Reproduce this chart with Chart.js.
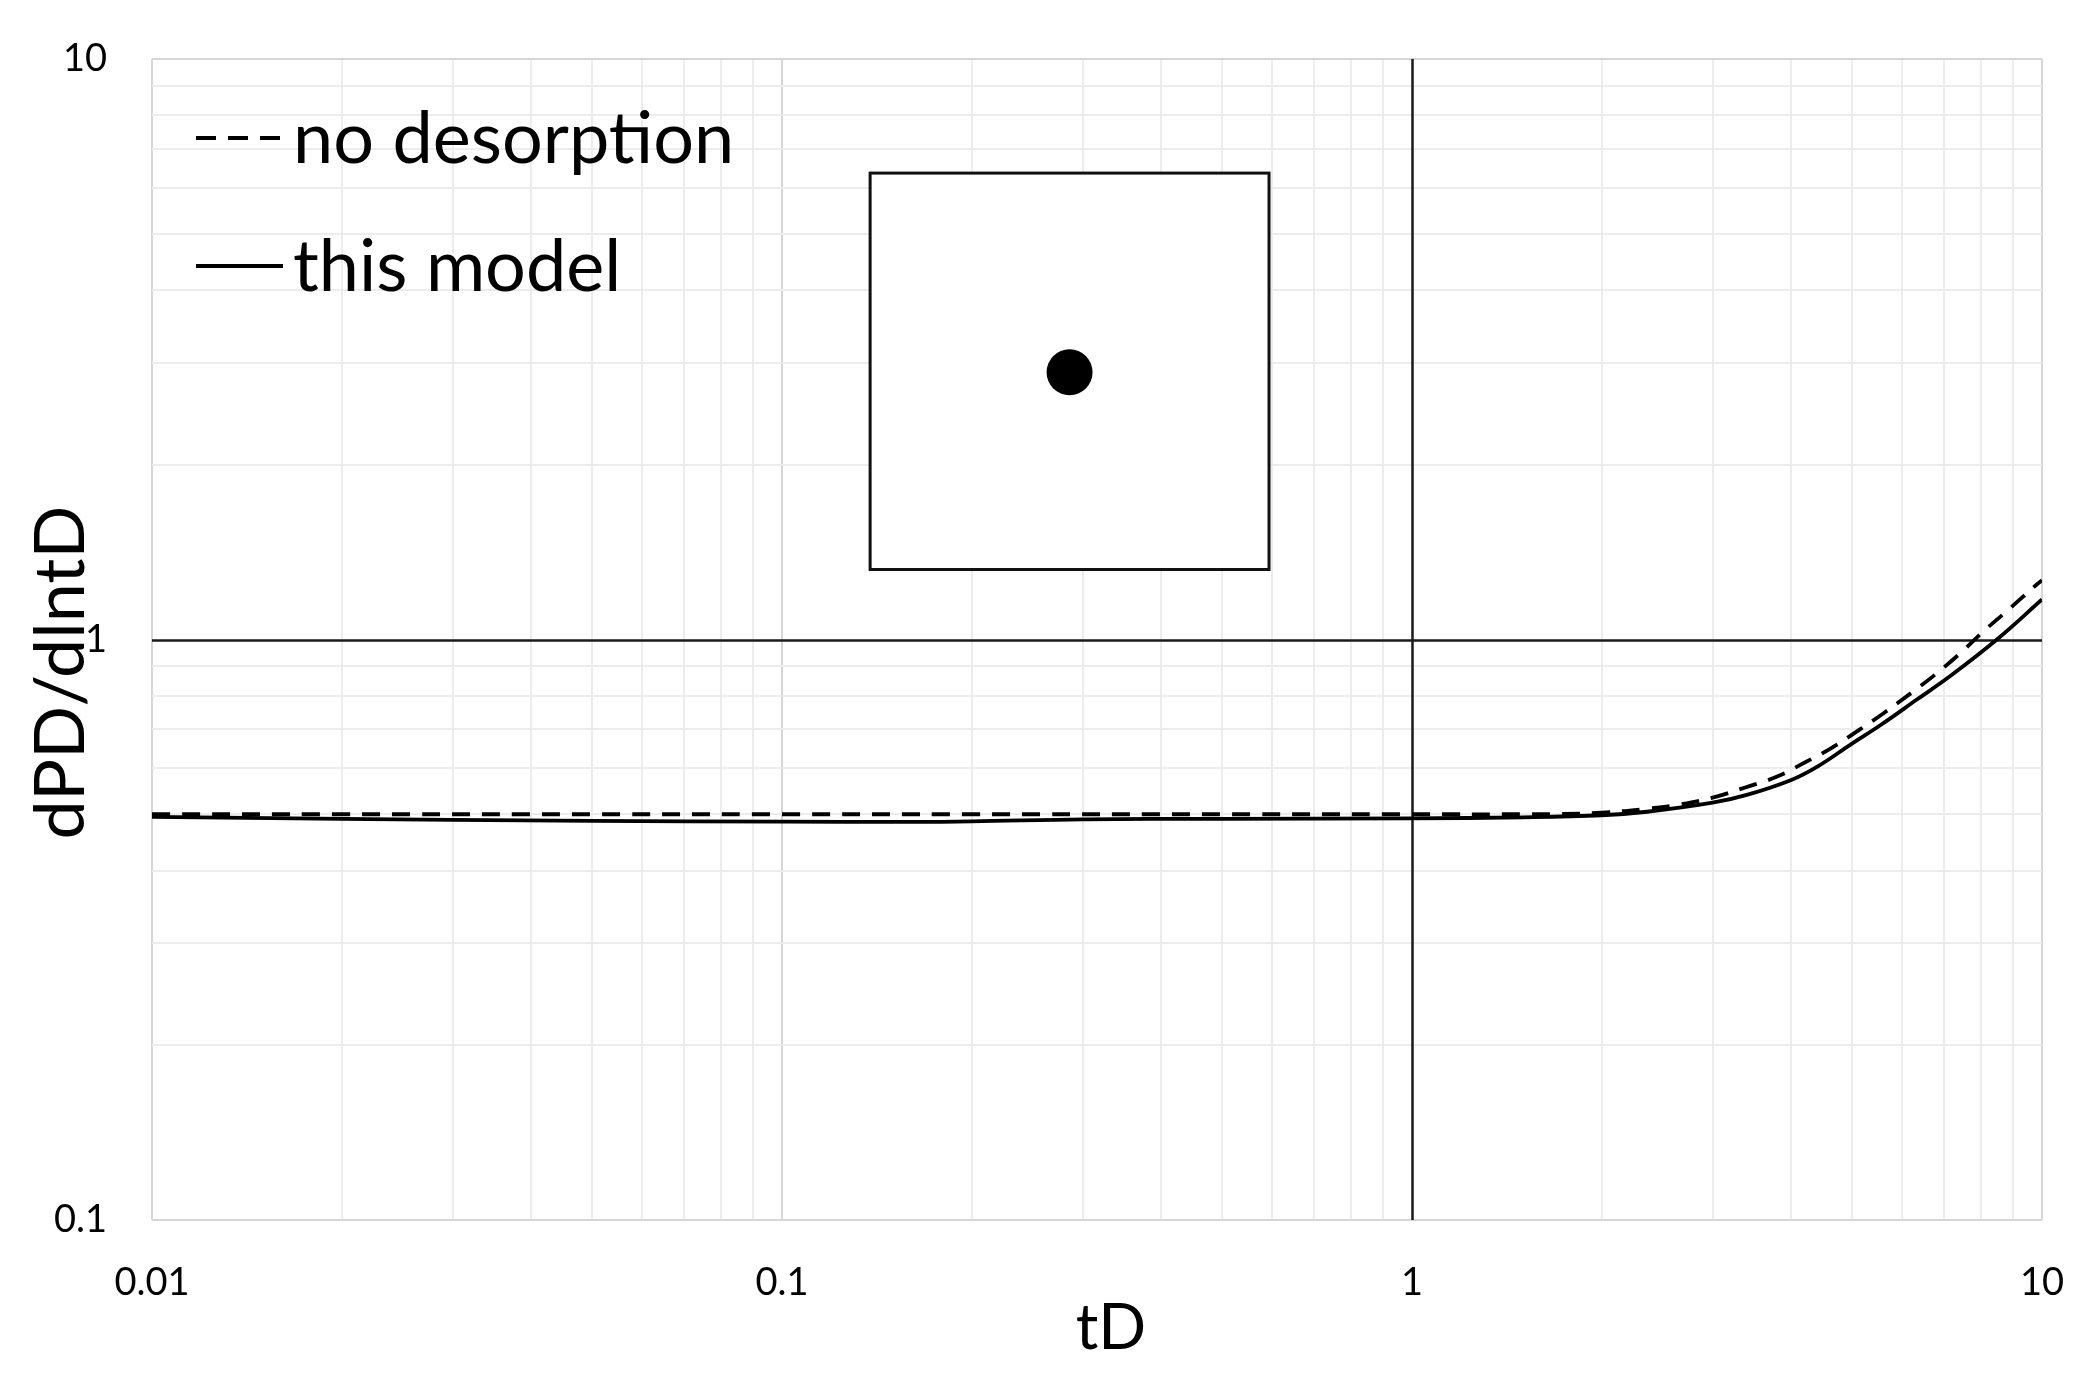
<!DOCTYPE html>
<html>
<head>
<meta charset="utf-8">
<script src="https://cdn.jsdelivr.net/npm/chart.js@4"></script>
<style>
  html, body { margin: 0; padding: 0; background: #ffffff; }
  canvas { display: block; }
</style>
</head>
<body>
<canvas id="c" width="2091" height="1397"></canvas>
<script>
// ---------- data ----------
const tD_noDesorption  = [0.01, 0.02, 0.05, 0.1, 0.2, 0.5, 1, 1.5, 1.72, 2.0, 2.36, 2.66, 3.0, 3.38, 3.79, 4.18, 4.63, 5.14, 5.59, 6.24, 6.81, 7.49, 8.06, 8.9, 9.82, 10];
const dPD_noDesorption = [0.5, 0.5, 0.5, 0.5, 0.5, 0.5, 0.5, 0.5, 0.5005, 0.503, 0.511, 0.5196, 0.534, 0.556, 0.580, 0.612, 0.650, 0.700, 0.745, 0.813, 0.875, 0.956, 1.031, 1.132, 1.245, 1.265];

const tD_thisModel  = [0.01, 0.02, 0.03, 0.05, 0.1, 0.16, 0.2, 0.3, 0.5, 1, 1.5, 2.0, 2.36, 3.0, 3.4, 4.0, 4.4, 5.0, 5.53, 6.33, 7.15, 8.48, 10];
const dPD_thisModel = [0.495, 0.491, 0.489, 0.487, 0.4855, 0.485, 0.486, 0.490, 0.491, 0.492, 0.494, 0.498, 0.505, 0.5235, 0.540, 0.573, 0.604, 0.6625, 0.711, 0.788, 0.865, 1.0, 1.172];

const seriesLabels = ['no desorption', 'this model'];
const xTickLabels = ['0.01', '0.1', '1', '10'];
const yTickLabels = ['0.1', '1', '10'];
const xTitle = 'tD';
const yTitle = 'dPD/dlntD';

// ---------- helpers ----------
const FONT = 'Lato, "Open Sans", "Noto Sans", sans-serif';
function toXY(xs, ys) { return xs.map((x, i) => ({ x: x, y: ys[i] })); }
function logTicks(min, max) {
  const t = [];
  for (let d = min; d <= max * 1.0001; d *= 10) {
    for (let m = 1; m < 10; m++) {
      const v = +(m * d).toPrecision(3);
      if (v > max * 1.0001) break;
      t.push({ value: v });
    }
  }
  return t;
}
function labelFor(list) {
  return function (value) {
    const hit = list.find(l => Math.abs(parseFloat(l) - value) < 1e-9 * Math.max(1, value));
    return hit === undefined ? '' : hit;
  };
}
function isDecade(v) { const l = Math.log10(v); return Math.abs(l - Math.round(l)) < 1e-9; }
function gridColor(ctx) {
  const v = ctx.tick.value;
  if (Math.abs(v - 1) < 1e-9) return 'rgba(0,0,0,0)'; // drawn as black crossing axis below
  return isDecade(v) ? '#d6d6d6' : '#ececec';
}

// ---------- overlay: crossing axes, inset sketch, legend, titles ----------
const overlay = {
  id: 'overlay',
  beforeDatasetsDraw(chart) {
    const { ctx, chartArea: a, scales: { x, y } } = chart;
    ctx.save();
    // crossing axes at 1
    ctx.strokeStyle = '#1a1a1a';
    ctx.lineWidth = 2.5;
    const px = Math.round(x.getPixelForValue(1)) + 0.5;
    const py = Math.round(y.getPixelForValue(1)) + 0.5;
    ctx.beginPath();
    ctx.moveTo(px, a.top); ctx.lineTo(px, a.bottom);
    ctx.moveTo(a.left, py); ctx.lineTo(a.right, py);
    ctx.stroke();
    // inset: square reservoir with centred well
    const x0 = x.getPixelForValue(0.138), x1 = x.getPixelForValue(0.593);
    const y0 = y.getPixelForValue(6.36), y1 = y.getPixelForValue(1.32);
    ctx.fillStyle = '#ffffff';
    ctx.fillRect(x0, y0, x1 - x0, y1 - y0);
    ctx.lineWidth = 3;
    ctx.strokeStyle = '#111111';
    ctx.strokeRect(x0, y0, x1 - x0, y1 - y0);
    ctx.beginPath();
    ctx.arc((x0 + x1) / 2, (y0 + y1) / 2 + 1, 23, 0, Math.PI * 2);
    ctx.fillStyle = '#000000';
    ctx.fill();
    ctx.restore();
  },
  afterDraw(chart) {
    const { ctx, chartArea: a } = chart;
    ctx.save();
    // legend inside plot
    ctx.font = '72px ' + FONT;
    ctx.fillStyle = '#000000';
    ctx.textAlign = 'left';
    ctx.textBaseline = 'alphabetic';
    chart.data.datasets.forEach((ds, i) => {
      const ly = a.top + 79 + i * 128;
      ctx.beginPath();
      ctx.strokeStyle = '#000000';
      ctx.lineWidth = 4;
      ctx.setLineDash(ds.borderDash ? [20, 12] : []);
      ctx.moveTo(a.left + 44, ly);
      ctx.lineTo(a.left + 131, ly);
      ctx.stroke();
      ctx.setLineDash([]);
      ctx.fillText(ds.label, a.left + 141, ly + 25);
    });
    // axis titles
    ctx.font = '63px ' + FONT;
    ctx.textAlign = 'center';
    ctx.fillText(xTitle, (a.left + a.right) / 2 + 14, 1349);
    ctx.translate(84, (a.top + a.bottom) / 2 + 33);
    ctx.rotate(-Math.PI / 2);
    ctx.font = '70px ' + FONT;
    ctx.fillText(yTitle, 0, 0);
    ctx.restore();
  }
};

function draw() {
  new Chart(document.getElementById('c'), {
    type: 'line',
    data: {
      datasets: [
        {
          label: seriesLabels[0],
          data: toXY(tD_noDesorption, dPD_noDesorption),
          borderColor: '#000000',
          borderWidth: 3.8,
          borderDash: [18, 12],
          pointRadius: 0,
          fill: false,
          tension: 0.4
        },
        {
          label: seriesLabels[1],
          data: toXY(tD_thisModel, dPD_thisModel),
          borderColor: '#000000',
          borderWidth: 3.8,
          pointRadius: 0,
          fill: false,
          tension: 0.4
        }
      ]
    },
    options: {
      responsive: false,
      animation: false,
      devicePixelRatio: 1,
      layout: { padding: { left: 0, top: 59, right: 49, bottom: 0 } },
      plugins: { legend: { display: false }, tooltip: { enabled: false } },
      scales: {
        x: {
          type: 'logarithmic',
          min: 0.01, max: 10,
          afterBuildTicks: s => { s.ticks = logTicks(0.01, 10); },
          afterFit: s => { s.height = 1397 - 1220; },
          border: { display: false },
          grid: { color: gridColor, lineWidth: 2, drawTicks: true, tickLength: 40, tickColor: 'rgba(0,0,0,0)' },
          ticks: {
            autoSkip: false, maxRotation: 0, minRotation: 0, padding: 0,
            color: '#000000', font: { family: FONT, size: 38 },
            callback: labelFor(xTickLabels)
          }
        },
        y: {
          type: 'logarithmic',
          min: 0.1, max: 10,
          afterBuildTicks: s => { s.ticks = logTicks(0.1, 10); },
          afterFit: s => { s.width = 152; },
          border: { display: false },
          grid: { color: gridColor, lineWidth: 2, drawTicks: true, tickLength: 45, tickColor: 'rgba(0,0,0,0)' },
          ticks: {
            autoSkip: false, padding: 0,
            color: '#000000', font: { family: FONT, size: 38 },
            callback: labelFor(yTickLabels)
          }
        }
      }
    },
    plugins: [overlay]
  });
}

const ready = (document.fonts && document.fonts.load)
  ? Promise.all([document.fonts.load('38px Lato'), document.fonts.load('72px Lato')]).catch(() => {})
  : Promise.resolve();
ready.then(draw);
</script>
</body>
</html>
